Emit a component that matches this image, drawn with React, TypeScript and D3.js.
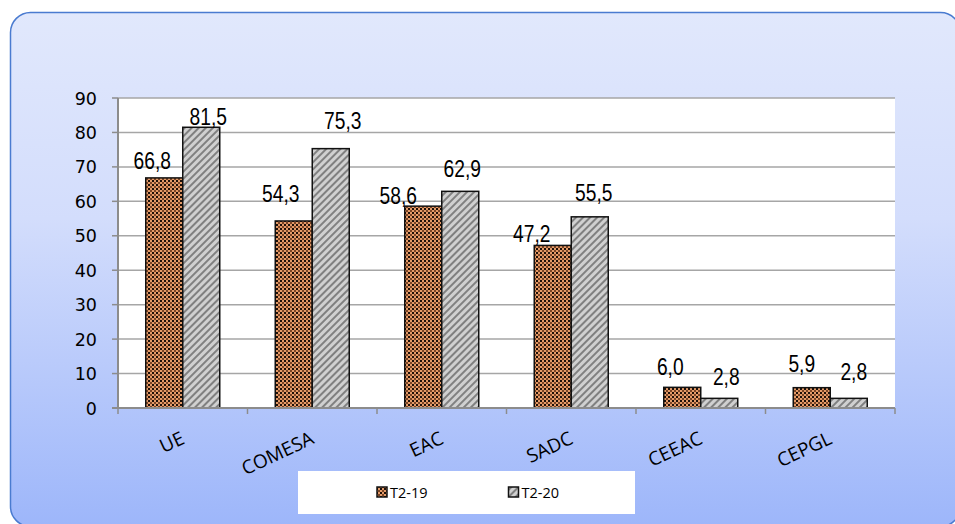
import React from "react";
import * as d3 from "d3";

const categories = ["UE", "COMESA", "EAC", "SADC", "CEEAC", "CEPGL"];
const seriesNames = ["T2-19", "T2-20"];
const valuesT219 = [66.8, 54.3, 58.6, 47.2, 6.0, 5.9];
const valuesT220 = [81.5, 75.3, 62.9, 55.5, 2.8, 2.8];
const yTicks = [0, 10, 20, 30, 40, 50, 60, 70, 80, 90];
// label nudges (px) as placed manually in the original chart
const labelDx19 = [-12, -13, -25, -21, -12, -10];
const labelDy19 = [-9, -19, -2, -3, -12, -16];
const labelDx20 = [7, 12, 2, 4, 7, 5];
const labelDy20 = [-2, -20, -14, -16, -13, -18];

const W = 955;
const H = 524;
const plot = { left: 118, right: 895, top: 98, bottom: 408 };

const fmt = (v: number) => v.toFixed(1).replace(".", ",");

export default function App() {
  const x = d3.scaleBand<string>().domain(categories).range([plot.left, plot.right]).padding(0);
  const y = d3.scaleLinear().domain([0, 90]).range([plot.bottom, plot.top]);
  const bw = x.bandwidth();
  const barW = 37;
  const inner = d3.scaleBand<string>().domain(seriesNames).range([(bw - 2 * barW) / 2, (bw + 2 * barW) / 2]).padding(0);
  const series = [valuesT219, valuesT220];
  const fills = ["url(#pat19)", "url(#pat20)"];
  const dxs = [labelDx19, labelDx20];
  const dys = [labelDy19, labelDy20];
  const boundaries = d3.range(categories.length + 1).map((i) => plot.left + i * bw);

  return (
    <svg width={W} height={H} style={{ position: "absolute", left: 0, top: 0 }}>
      <defs>
        <linearGradient id="bg" x1="0" y1="0" x2="0" y2="1">
          <stop offset="0" stopColor="#e1e8fc" />
          <stop offset="0.4" stopColor="#d3ddfc" />
          <stop offset="1" stopColor="#9db6fa" />
        </linearGradient>
        <pattern id="pat19" patternUnits="userSpaceOnUse" width="4" height="4">
          <rect width="4" height="4" fill="#e39a68" />
          <rect x="0" y="0" width="2" height="2" fill="#1e1008" />
          <rect x="2" y="2" width="2" height="2" fill="#7a4424" />
        </pattern>
        <pattern id="pat20" patternUnits="userSpaceOnUse" width="5" height="5" patternTransform="rotate(45)">
          <rect width="5" height="5" fill="#d0d0d0" />
          <rect x="0" y="0" width="2" height="5" fill="#808080" />
        </pattern>
      </defs>
      <rect x={0} y={0} width={W} height={H} fill="#ffffff" />
      <rect x={10.5} y={12.5} width={950} height={514} rx={20} ry={20} fill="url(#bg)" stroke="#4a7bd0" strokeWidth={1.5} />
      <rect x={plot.left} y={plot.top} width={plot.right - plot.left} height={plot.bottom - plot.top} fill="#ffffff" />
      {yTicks.map((t) => (
        <g key={t}>
          {t > 0 && (
            <line x1={plot.left} x2={plot.right} y1={y(t)} y2={y(t)} stroke="#a6a6a6" strokeWidth={1.5} />
          )}
          <line x1={plot.left - 6} x2={plot.left} y1={y(t)} y2={y(t)} stroke="#8c8c8c" strokeWidth={1.5} />
          <text x={97} y={y(t) + 6.5} textAnchor="end" fontFamily="DejaVu Sans, sans-serif" fontSize={17.5} fill="#000">
            {t}
          </text>
        </g>
      ))}
      {categories.map((c, i) => (
        <g key={c}>
          {series.map((vals, s) => {
            const bx = (x(c) as number) + (inner(seriesNames[s]) as number);
            const by = y(vals[i]);
            const lx = bx + barW / 2 + dxs[s][i];
            const ly = by + dys[s][i];
            return (
              <g key={s}>
                <rect x={bx} y={by} width={barW} height={plot.bottom - by} fill={fills[s]} stroke="#111" strokeWidth={1.5} />
                <text
                  transform={`translate(${lx} ${ly}) scale(0.8 1)`}
                  textAnchor="middle"
                  fontFamily="'Liberation Sans', Arial, sans-serif"
                  fontSize={24}
                  fill="#000"
                >
                  {fmt(vals[i])}
                </text>
              </g>
            );
          })}
        </g>
      ))}
      <line x1={plot.left} x2={plot.left} y1={plot.top} y2={plot.bottom} stroke="#8c8c8c" strokeWidth={2} />
      <line x1={plot.left - 6} x2={plot.right} y1={plot.bottom} y2={plot.bottom} stroke="#8c8c8c" strokeWidth={2} />
      {boundaries.map((bx, i) => (
        <line key={i} x1={bx} x2={bx} y1={plot.bottom} y2={plot.bottom + 6} stroke="#8c8c8c" strokeWidth={1.5} />
      ))}
      {categories.map((c) => {
        const cx = (x(c) as number) + bw / 2 + 3;
        const cy = 443;
        return (
          <text
            key={c}
            x={cx}
            y={cy}
            transform={`rotate(-25 ${cx} ${cy})`}
            textAnchor="end"
            fontFamily="'Open Sans', sans-serif"
            fontSize={19}
            fill="#000"
          >
            {c}
          </text>
        );
      })}
      <rect x={298} y={471} width={337} height={43} fill="#ffffff" />
      {seriesNames.map((s, i) => {
        const lx = 377 + i * 131.5;
        return (
          <g key={s}>
            <rect x={lx} y={487} width={10} height={10} fill={fills[i]} stroke="#111" strokeWidth={1.5} />
            <text x={lx + 13} y={497.5} fontFamily="'Open Sans', sans-serif" fontSize={14.5} fill="#000">
              {s}
            </text>
          </g>
        );
      })}
    </svg>
  );
}
